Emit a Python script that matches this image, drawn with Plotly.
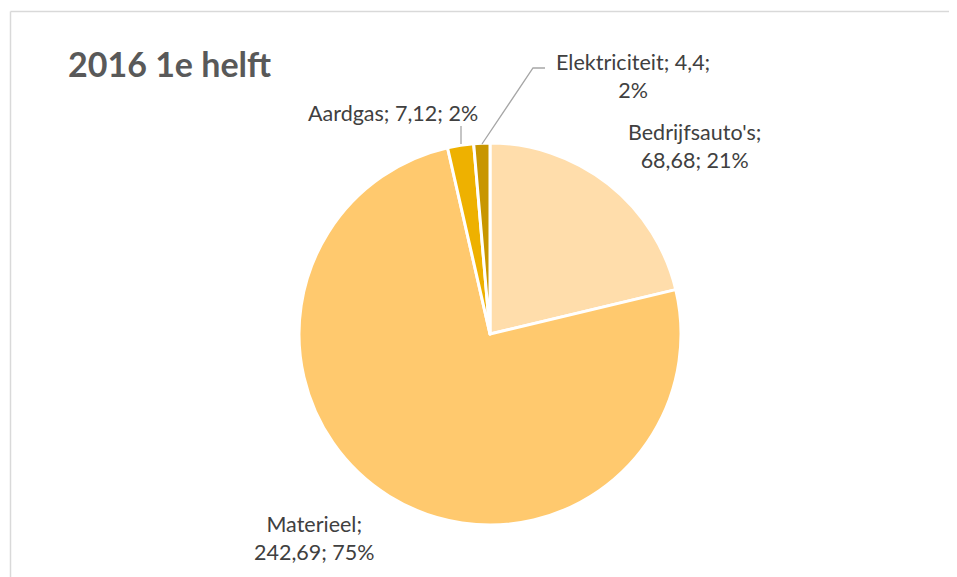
import plotly.graph_objects as go

# Data
categories = ["Bedrijfsauto's", "Materieel", "Aardgas", "Elektriciteit"]
values = [68.68, 242.69, 7.12, 4.4]
value_labels = ["68,68", "242,69", "7,12", "4,4"]
pct_labels = ["21%", "75%", "2%", "2%"]
colors = ["#FFDDAB", "#FFC96E", "#EEB100", "#C89600"]

# The page body has an 8px margin; size the figure so it fills the window.
OFF = 8
W, H = 957 - OFF, 577 - OFF


def px(x):
    return (x - OFF) / W


def py(y):
    return 1 - (y - OFF) / H


cx, cy, r = 490, 334, 191

fig = go.Figure()
fig.add_trace(go.Pie(
    labels=categories,
    values=values,
    sort=False,
    direction="clockwise",
    rotation=0,
    marker=dict(colors=colors, line=dict(color="white", width=3)),
    textinfo="none",
    hoverinfo="label+value+percent",
    showlegend=False,
    domain=dict(x=[px(cx - r), px(cx + r)], y=[py(cy + r), py(cy - r)]),
))

label_font = dict(family="Lato, Calibri, sans-serif", size=21.5, color="#404040")

label_pos = {
    "Bedrijfsauto's": (694, 146, True),
    "Materieel": (314, 538, True),
    "Aardgas": (393, 113, False),
    "Elektriciteit": (633, 76, True),
}

annotations = []
for cat, val, pct in zip(categories, value_labels, pct_labels):
    x, y, two = label_pos[cat]
    if cat == "Elektriciteit":
        text = f"{cat}; {val};<br>{pct}"
    elif two:
        text = f"{cat};<br>{val}; {pct}"
    else:
        text = f"{cat}; {val}; {pct}"
    annotations.append(dict(
        x=px(x), y=py(y), xref="paper", yref="paper",
        text=text, showarrow=False, font=label_font,
        xanchor="center", yanchor="middle", align="center",
    ))

# Title
annotations.append(dict(
    x=px(66), y=py(64), xref="paper", yref="paper",
    text="<b>2016 1e helft</b>", showarrow=False,
    font=dict(family="Lato, Calibri, sans-serif", size=34, color="#595959"),
    xanchor="left", yanchor="middle",
))

border = dict(color="#D9D9D9", width=1.5)
shapes = [
    # outer chart border (top and left edges visible in the crop)
    dict(type="line", xref="paper", yref="paper",
         x0=px(10.5), y0=py(11.5), x1=px(960), y1=py(11.5), line=border),
    dict(type="line", xref="paper", yref="paper",
         x0=px(10.5), y0=py(11.5), x1=px(10.5), y1=py(580), line=border),
    # leader line Aardgas
    dict(type="line", xref="paper", yref="paper",
         x0=px(461), y0=py(126), x1=px(461), y1=py(144),
         line=dict(color="#A6A6A6", width=1.3)),
    # leader line Elektriciteit
    dict(type="path", xref="paper", yref="paper",
         path=f"M {px(482)},{py(144)} L {px(533)},{py(68)} L {px(545)},{py(68)}",
         line=dict(color="#A6A6A6", width=1.3)),
]

fig.update_layout(
    width=W, height=H,
    margin=dict(l=0, r=0, t=0, b=0),
    paper_bgcolor="white",
    plot_bgcolor="white",
    annotations=annotations,
    shapes=shapes,
)

fig.write_html(
    "out.html",
    post_script=(
        "document.body.style.overflow='hidden';"
        "document.documentElement.style.overflow='hidden';"
    ),
)
